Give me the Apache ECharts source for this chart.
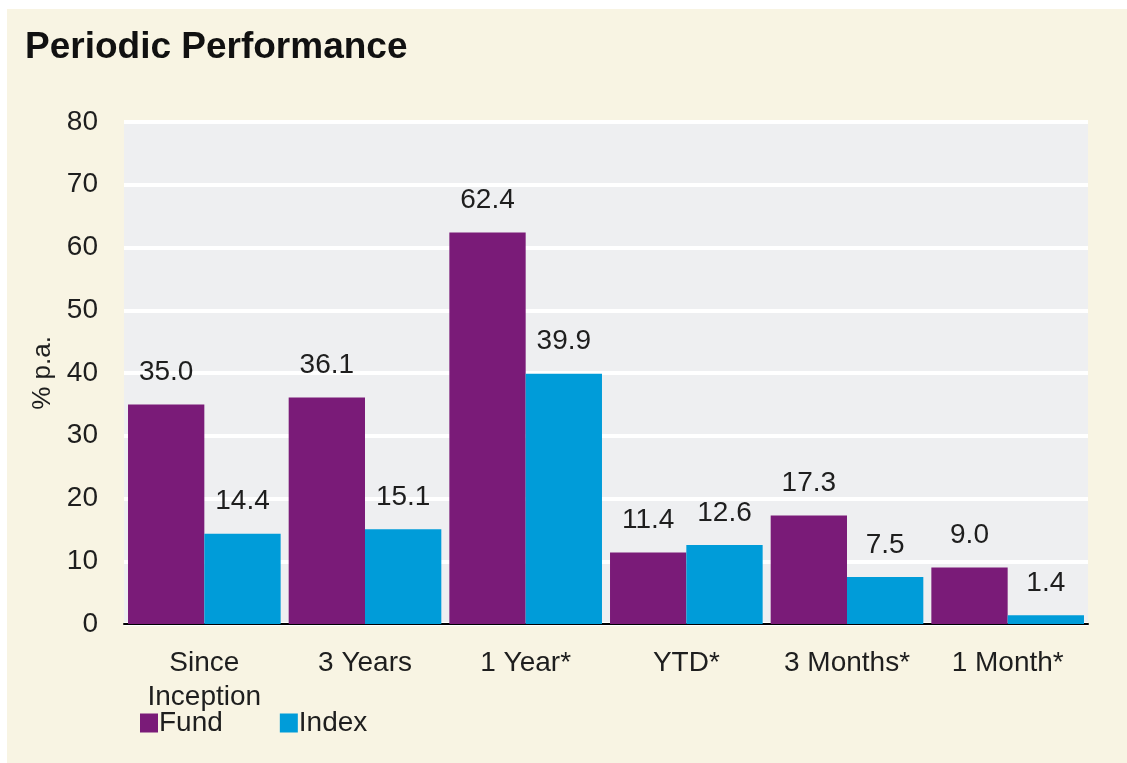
<!DOCTYPE html>
<html>
<head>
<meta charset="utf-8">
<script src="https://cdn.jsdelivr.net/npm/echarts@6/dist/echarts.min.js"></script>
<style>
html,body{margin:0;padding:0;background:#ffffff;}
#bg{position:absolute;left:7px;top:9px;width:1120px;height:754px;background:#f8f4e3;}
#chart{position:absolute;left:0;top:0;width:1127px;height:763px;}
</style>
</head>
<body>
<div id="bg"></div>
<div id="chart"></div>
<script>
const categories = ['Since\nInception', '3 Years', '1 Year*', 'YTD*', '3 Months*', '1 Month*'];
const fundValues = [35.0, 36.1, 62.4, 11.4, 17.3, 9.0];
const indexValues = [14.4, 15.1, 39.9, 12.6, 7.5, 1.4];
const seriesNames = ['Fund', 'Index'];

const FONT = "'Liberation Sans', Arial, Helvetica, sans-serif";
const TXT = '#1e1e1e';

const chart = echarts.init(document.getElementById('chart'), null, {renderer: 'canvas'});
const labelCfg = {
  show: true, position: 'top', distance: 18,
  fontFamily: FONT, fontSize: 28, color: TXT,
  formatter: p => p.value.toFixed(1)
};
chart.setOption({
  backgroundColor: 'transparent',
  animation: false,
  title: {
    text: 'Periodic Performance',
    left: 20, top: 24,
    textStyle: {fontFamily: FONT, fontSize: 37, fontWeight: 'bold', color: '#111'}
  },
  legend: {
    data: seriesNames,
    left: 135, top: 704,
    icon: 'rect', itemWidth: 18, itemHeight: 19, itemGap: 57,
    textStyle: {fontFamily: FONT, fontSize: 28, color: TXT, padding: [0, 0, 0, -4]}
  },
  grid: {
    left: 124, right: 39, top: 122, bottom: 139,
    show: true, backgroundColor: '#eeeff1', borderWidth: 0
  },
  xAxis: {
    type: 'category',
    data: categories,
    axisLine: {show: true, lineStyle: {color: '#000', width: 2}},
    axisTick: {show: false},
    axisLabel: {fontFamily: FONT, fontSize: 28, color: TXT, lineHeight: 34, margin: 22, interval: 0}
  },
  yAxis: {
    type: 'value',
    min: 0, max: 80, interval: 10,
    name: '% p.a.',
    nameLocation: 'middle',
    nameRotate: 90,
    nameGap: 60,
    nameTextStyle: {fontFamily: FONT, fontSize: 26, color: TXT},
    axisLine: {show: false},
    axisTick: {show: false},
    axisLabel: {fontFamily: FONT, fontSize: 28, color: TXT, margin: 26, padding: [4, 0, 0, 0]},
    splitLine: {show: true, lineStyle: {color: '#ffffff', width: 4}}
  },
  series: [
    {
      name: seriesNames[0], type: 'bar', data: fundValues,
      barGap: '0%', barCategoryGap: '5%',
      itemStyle: {color: '#7a1b78'},
      label: labelCfg
    },
    {
      name: seriesNames[1], type: 'bar', data: indexValues,
      barGap: '0%', barCategoryGap: '5%',
      itemStyle: {color: '#009cd9'},
      label: labelCfg
    }
  ]
});
</script>
</body>
</html>
